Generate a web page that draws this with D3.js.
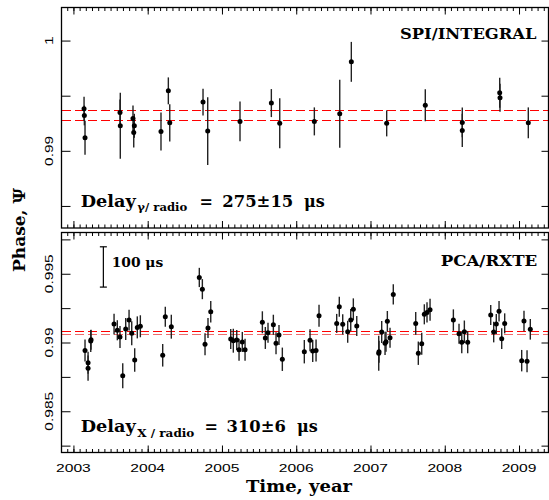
<!DOCTYPE html>
<html>
<head>
<meta charset="utf-8">
<script src="https://cdn.jsdelivr.net/npm/d3@7"></script>
<style>
body { margin: 0; background: #fff; }
svg { display: block; }
.serif { font-family: "DejaVu Serif", serif; font-weight: bold; fill: #000; }
.sans { font-family: "Liberation Sans", Arial, sans-serif; fill: #000; }
</style>
</head>
<body>
<div id="chart"></div>
<script>
// SPI/INTEGRAL points (time in years, phase, 1-sigma error)
var spiTime = [2003.143, 2003.147, 2003.156, 2003.627, 2003.631, 2003.802, 2003.820, 2003.812, 2004.179, 2004.278, 2004.297, 2004.745, 2004.808,
    2005.243, 2005.665, 2005.778, 2006.244, 2006.586, 2006.742, 2007.218, 2007.738, 2008.236, 2008.236, 2008.740, 2008.744, 2009.125];
var spiPhase = [0.99381, 0.99321, 0.99118, 0.99348, 0.99227, 0.99294, 0.99227, 0.99167, 0.99176, 0.99544, 0.99254, 0.99442, 0.99179,
    0.99267, 0.99433, 0.99251, 0.99267, 0.99336, 0.99807, 0.99249, 0.99414, 0.99258, 0.99185, 0.99526, 0.99481, 0.99254];
var spiErr = [0.00109, 0.0009, 0.00154, 0.00118, 0.00299, 0.00118, 0.00109, 0.00136, 0.00172, 0.00122, 0.00169, 0.00122, 0.00308,
    0.00181, 0.00127, 0.00227, 0.00127, 0.00308, 0.00181, 0.00118, 0.00145, 0.00136, 0.00151, 0.00136, 0.00127, 0.0014];

// PCA/RXTE points
var pcaTime = [2003.156, 2003.197, 2003.197, 2003.233, 2003.237, 2003.547, 2003.591, 2003.627, 2003.664, 2003.704, 2003.749, 2003.785, 2003.825,
    2003.860, 2003.901, 2004.202, 2004.237, 2004.318, 2004.695, 2004.736, 2004.772, 2004.812, 2004.849,
    2005.118, 2005.153, 2005.199, 2005.230, 2005.274, 2005.311, 2005.544, 2005.584, 2005.620, 2005.692, 2005.728, 2005.768, 2005.813,
    2006.109, 2006.186, 2006.222, 2006.267, 2006.307, 2006.545, 2006.580, 2006.626, 2006.693, 2006.734, 2006.769, 2006.815,
    2007.111, 2007.115, 2007.151, 2007.196, 2007.209, 2007.227, 2007.263, 2007.307, 2007.609, 2007.644, 2007.690, 2007.725, 2007.761, 2007.802,
    2008.116, 2008.192, 2008.229, 2008.264, 2008.309, 2008.619, 2008.659, 2008.694, 2008.731, 2008.767, 2008.807,
    2009.036, 2009.067, 2009.108, 2009.152];
var pcaPhase = [0.98941, 0.98853, 0.98813, 0.99011, 0.9902, 0.99134, 0.99089, 0.9904, 0.98759, 0.99098, 0.99163, 0.99067, 0.98873,
    0.9911, 0.99118, 0.98907, 0.99187, 0.99115, 0.99473, 0.99388, 0.98987, 0.99105, 0.99224,
    0.99025, 0.99013, 0.99018, 0.98948, 0.99004, 0.98948, 0.99147, 0.99033, 0.99071, 0.99129, 0.98994, 0.99055, 0.98878,
    0.98933, 0.99016, 0.98938, 0.98941, 0.99195, 0.99139, 0.9926, 0.99132, 0.99078, 0.99163, 0.99241, 0.9912,
    0.98922, 0.98933, 0.99076, 0.98994, 0.99006, 0.99154, 0.99035, 0.9935, 0.99139, 0.98922, 0.98991, 0.99205, 0.99219, 0.99238,
    0.99163, 0.99064, 0.99002, 0.99078, 0.99002, 0.992, 0.99076, 0.99134, 0.99227, 0.99028, 0.99139,
    0.98868, 0.99156, 0.98864, 0.99096];
var pcaErr = [0.0008, 0.0008, 0.00092, 0.0008, 0.00073, 0.00076, 0.00073, 0.0008, 0.00091, 0.0008, 0.00076, 0.00087, 0.00085,
    0.0008, 0.0008, 0.00082, 0.00073, 0.00087, 0.0007, 0.00073, 0.0008, 0.00073, 0.00078,
    0.00073, 0.00087, 0.00073, 0.0008, 0.00073, 0.0008, 0.0008, 0.0008, 0.00073, 0.00073, 0.0008, 0.00073, 0.00085,
    0.00085, 0.0008, 0.0008, 0.0008, 0.0008, 0.00069, 0.00073, 0.00073, 0.0008, 0.0008, 0.0008, 0.00073,
    0.00127, 0.0008, 0.0008, 0.00085, 0.00073, 0.00075, 0.00073, 0.00073, 0.00082, 0.00085, 0.0008, 0.00073, 0.00073, 0.0008,
    0.00078, 0.00073, 0.0008, 0.00082, 0.0008, 0.00073, 0.00075, 0.00073, 0.00075, 0.00075, 0.00073,
    0.00078, 0.00075, 0.0008, 0.00075];

// mean phase levels (red dashed lines)
var spiLevels = [0.99369, 0.99279];
var pcaLevels = [0.99078, 0.99055];

// 100 us scale bar in phase units (Crab period ~33.7 ms)
var barTime = 2003.403;
var barPhase = [0.99403, 0.99696];

// ticks
var years = [2003, 2004, 2005, 2006, 2007, 2008, 2009];
var spiTicks = [0.985, 0.99, 0.995, 1.0];
var spiLabels = [0.99, 1.0];
var pcaTicks = [0.9825, 0.985, 0.9875, 0.99, 0.9925, 0.995, 0.9975];
var pcaLabels = [0.985, 0.99, 0.995];

var W = 549, H = 500;
var L = 61.5, R = 548.5;

var svg = d3.select("#chart").append("svg")
    .attr("width", W)
    .attr("height", H);

var x = d3.scaleLinear()
    .domain([2002.842, 2009.397])
    .range([61.7, 548.5]);

var months = d3.range(2002 + 11 / 12, 2009.4, 1 / 12).filter(d => d > 2002.842 && d < 2009.397);

function labelWidth(s) {
    // wide plotting-package digits
    var w = 0;
    for (var c of s) w += (c == "." ? 4 : 8.7);
    return w;
}

function drawPanel(top, bottom, domain, ticks, labels, times, phases, errs, levels, levelColors) {
    var y = d3.scaleLinear().domain(domain).range([bottom, top]);
    var g = svg.append("g");

    // red dashed means
    g.selectAll(".level")
        .data(levels)
        .enter()
        .append("line")
        .attr("x1", L).attr("x2", R)
        .attr("y1", d => y(d)).attr("y2", d => y(d))
        .attr("shape-rendering", "crispEdges")
        .style("stroke", (d, i) => levelColors[i])
        .style("stroke-width", 1)
        .style("stroke-dasharray", "9,4");

    var idx = d3.range(times.length);
    g.selectAll(".err")
        .data(idx)
        .enter()
        .append("line")
        .attr("x1", i => x(times[i])).attr("x2", i => x(times[i]))
        .attr("y1", i => y(phases[i] - errs[i]))
        .attr("y2", i => y(phases[i] + errs[i]))
        .style("stroke", "#222")
        .style("stroke-width", 1.4);

    g.selectAll(".pt")
        .data(idx)
        .enter()
        .append("circle")
        .attr("cx", i => x(times[i]))
        .attr("cy", i => y(phases[i]))
        .attr("r", 2.5)
        .style("fill", "#000");

    // ticks, all pointing inward
    var axes = [
        [d3.axisBottom(x).tickValues(years).tickSize(-7), "translate(0," + bottom + ")"],
        [d3.axisBottom(x).tickValues(months).tickSize(-3.5), "translate(0," + bottom + ")"],
        [d3.axisTop(x).tickValues(years).tickSize(-7), "translate(0," + top + ")"],
        [d3.axisTop(x).tickValues(months).tickSize(-3.5), "translate(0," + top + ")"],
        [d3.axisLeft(y).tickValues(ticks).tickSize(-9), "translate(" + L + ",0)"],
        [d3.axisRight(y).tickValues(ticks).tickSize(-7), "translate(" + R + ",0)"]
    ];
    axes.forEach(a => {
        var ax = g.append("g")
            .attr("transform", a[1])
            .call(a[0].tickFormat(""));
        ax.select(".domain").remove();
        ax.selectAll(".tick line").style("stroke", "#000").style("stroke-width", 1);
    });

    g.append("rect")
        .attr("x", L).attr("y", top)
        .attr("width", R - L).attr("height", bottom - top)
        .style("fill", "none")
        .style("stroke", "#000")
        .style("stroke-width", 1.3);

    g.selectAll(".ylab")
        .data(labels)
        .enter()
        .append("text")
        .attr("class", "sans")
        .attr("x", 53.3)
        .attr("y", d => y(d))
        .attr("transform", d => "rotate(-90,53.3," + y(d) + ")")
        .attr("text-anchor", "middle")
        .attr("font-size", "11.6px")
        .attr("textLength", d => labelWidth(String(+d.toFixed(4))))
        .attr("lengthAdjust", "spacingAndGlyphs")
        .text(d => String(+d.toFixed(4)));

    return y;
}

var y1 = drawPanel(7.5, 228, [0.983, 1.003], spiTicks, spiLabels, spiTime, spiPhase, spiErr, spiLevels, ["#ff0000", "#ff0000"]);
var y2 = drawPanel(232.5, 452.5, [0.982, 0.998], pcaTicks, pcaLabels, pcaTime, pcaPhase, pcaErr, pcaLevels, ["#ff0000", "#f06a6a"]);

// year labels
svg.selectAll(".xlab")
    .data(years)
    .enter()
    .append("text")
    .attr("class", "sans")
    .attr("x", d => x(d))
    .attr("y", 471.7)
    .attr("text-anchor", "middle")
    .attr("font-size", "11.6px")
    .attr("textLength", 34.7)
    .attr("lengthAdjust", "spacingAndGlyphs")
    .text(d => d);

// scale bar
svg.append("line")
    .attr("x1", x(barTime)).attr("x2", x(barTime))
    .attr("y1", y2(barPhase[0])).attr("y2", y2(barPhase[1]))
    .style("stroke", "#000").style("stroke-width", 1.2);
barPhase.forEach(p => {
    svg.append("line")
        .attr("x1", x(barTime) - 3.5).attr("x2", x(barTime) + 3.5)
        .attr("y1", y2(p)).attr("y2", y2(p))
        .style("stroke", "#000").style("stroke-width", 1.2);
});
svg.append("text")
    .attr("class", "serif")
    .attr("x", 111.7).attr("y", 266.7)
    .attr("font-size", "12.5px")
    .attr("textLength", 51.5)
    .attr("lengthAdjust", "spacingAndGlyphs")
    .text("100 μs");

// instrument names
svg.append("text").attr("class", "serif")
    .attr("x", 400).attr("y", 39)
    .attr("font-size", "15.5px")
    .attr("textLength", 136.5).attr("lengthAdjust", "spacingAndGlyphs")
    .text("SPI/INTEGRAL");
svg.append("text").attr("class", "serif")
    .attr("x", 440.7).attr("y", 265.7)
    .attr("font-size", "15.5px")
    .attr("textLength", 96.5).attr("lengthAdjust", "spacingAndGlyphs")
    .text("PCA/RXTE");

// delay annotations
function delayText(yb, sub, subW, val, valX, valW, eqX, muX) {
    svg.append("text").attr("class", "serif")
        .attr("x", 80.7).attr("y", yb)
        .attr("font-size", "16px")
        .attr("textLength", 55).attr("lengthAdjust", "spacingAndGlyphs")
        .text("Delay");
    svg.append("text").attr("class", "serif")
        .attr("x", 137.3).attr("y", yb + 4.5)
        .attr("font-size", "10.5px")
        .attr("textLength", subW).attr("lengthAdjust", "spacingAndGlyphs")
        .text(sub);
    svg.append("text").attr("class", "serif")
        .attr("x", eqX).attr("y", yb)
        .attr("font-size", "16px")
        .text("=");
    svg.append("text").attr("class", "serif")
        .attr("x", valX).attr("y", yb)
        .attr("font-size", "16px")
        .attr("textLength", valW).attr("lengthAdjust", "spacingAndGlyphs")
        .text(val);
    svg.append("text").attr("class", "serif")
        .attr("x", muX).attr("y", yb)
        .attr("font-size", "16px")
        .text("μs");
}
delayText(206.7, "γ/ radio", 50, "275±15", 222.3, 71, 199.5, 304);
delayText(432, "X / radio", 57, "310±6", 226.6, 59.2, 204.5, 297);

// axis titles
svg.append("text").attr("class", "serif")
    .attr("x", 299).attr("y", 491.7)
    .attr("text-anchor", "middle")
    .attr("font-size", "16px")
    .attr("textLength", 106).attr("lengthAdjust", "spacingAndGlyphs")
    .text("Time, year");
svg.append("text").attr("class", "serif")
    .attr("transform", "translate(25,230) rotate(-90)")
    .attr("text-anchor", "middle")
    .attr("font-size", "16px")
    .attr("textLength", 84).attr("lengthAdjust", "spacingAndGlyphs")
    .text("Phase, Ψ");
</script>
</body>
</html>
